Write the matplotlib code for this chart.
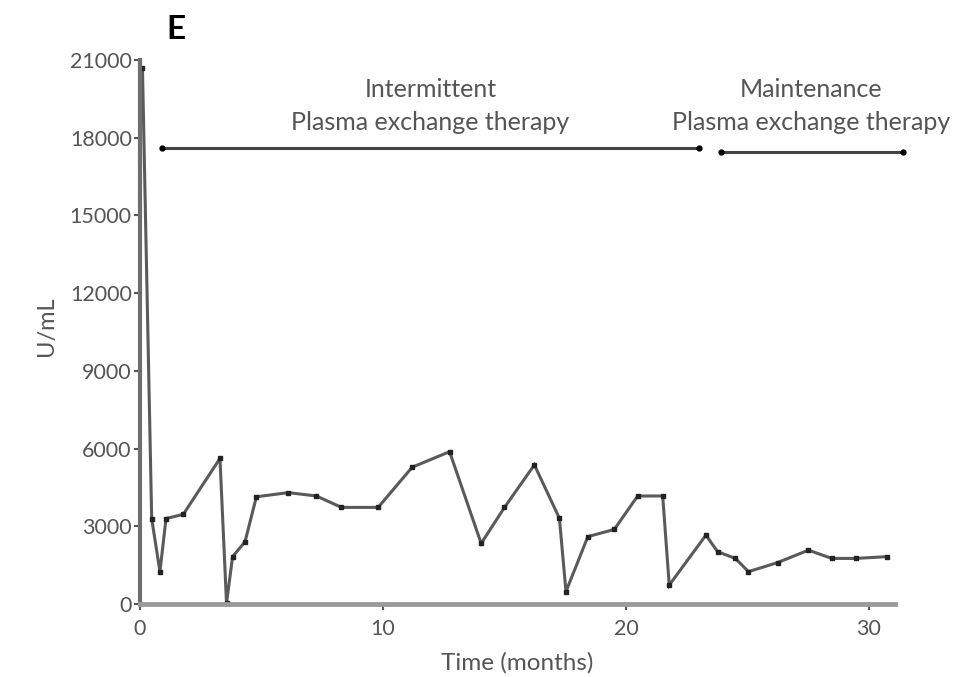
import matplotlib
matplotlib.use("Agg")
import matplotlib.pyplot as plt

# Antibody titre over time (months, U/mL)
months = [0.1, 0.48, 0.82, 1.07, 1.78, 3.29, 3.56, 3.81, 4.32, 4.79, 6.10,
          7.26, 8.29, 9.80, 11.2, 12.74, 14.04, 15.0, 16.23, 17.26, 17.53,
          18.43, 19.52, 20.48, 21.51, 21.78, 23.29, 23.77, 24.50, 25.04,
          26.24, 27.51, 28.47, 29.46, 30.76]
titre = [20700, 3300, 1250, 3300, 3460, 5620, 30, 1830, 2400, 4140, 4300,
         4170, 3730, 3730, 5280, 5880, 2340, 3730, 5370, 3310, 480,
         2600, 2880, 4170, 4170, 730, 2660, 2020, 1760, 1250,
         1600, 2080, 1760, 1760, 1830]

# Therapy phases: label, start month, end month, arrow level, label centre
phase_labels = ["Intermittent\nPlasma exchange therapy",
                "Maintenance\nPlasma exchange therapy"]
phase_start = [0.9, 23.9]
phase_end = [23.0, 31.4]
phase_level = [17600, 17450]
phase_label_x = [11.95, 27.6]

y_ticks = [0, 3000, 6000, 9000, 12000, 15000, 18000, 21000]
x_ticks = [0, 10, 20, 30]

plt.rcParams["font.family"] = ["Lato", "DejaVu Sans"]

fig = plt.figure(figsize=(9.61, 6.77), dpi=100)
ax = fig.add_axes([0.1457, 0.1078, 0.7856, 0.8036])

ax.plot(months, titre, color="#5a5a5a", lw=2.2, marker="s", ms=2.5,
        mfc="#222222", mec="#222222", solid_joinstyle="miter", clip_on=False)

for lab, x0, x1, lv, xc in zip(phase_labels, phase_start, phase_end,
                               phase_level, phase_label_x):
    ax.plot([x0, x1], [lv, lv], color="#444444", lw=2.2, marker="o", ms=3.5,
            mfc="black", mec="black", clip_on=False)
    ax.text(xc, 19230, lab, ha="center", va="center",
            fontsize=18, color="#555555", linespacing=1.55)

ax.set_xlim(0, 31.07)
ax.set_ylim(0, 21000)
ax.set_yticks(y_ticks)
ax.set_xticks(x_ticks)
ax.tick_params(axis="both", labelsize=15.5, colors="#555555", length=4,
               width=1.5, direction="out")
ax.tick_params(axis="y", pad=2)
ax.tick_params(axis="x", pad=7)

for s in ("top", "right"):
    ax.spines[s].set_visible(False)
ax.spines["left"].set_color("#6e6e6e")
ax.spines["left"].set_linewidth(3)
ax.spines["bottom"].set_color("#9a9a9a")
ax.spines["bottom"].set_linewidth(3.5)

ax.set_xlabel("Time (months)", fontsize=17.5, color="#555555", labelpad=9)
ax.set_ylabel("U/mL", fontsize=17, color="#555555")
ax.yaxis.set_label_coords(-0.11, 0.51)

fig.text(0.183, 0.957, "E", fontsize=24, fontweight="bold", color="black",
         ha="center", va="center")

fig.savefig("out.png", dpi=100, facecolor="white")
